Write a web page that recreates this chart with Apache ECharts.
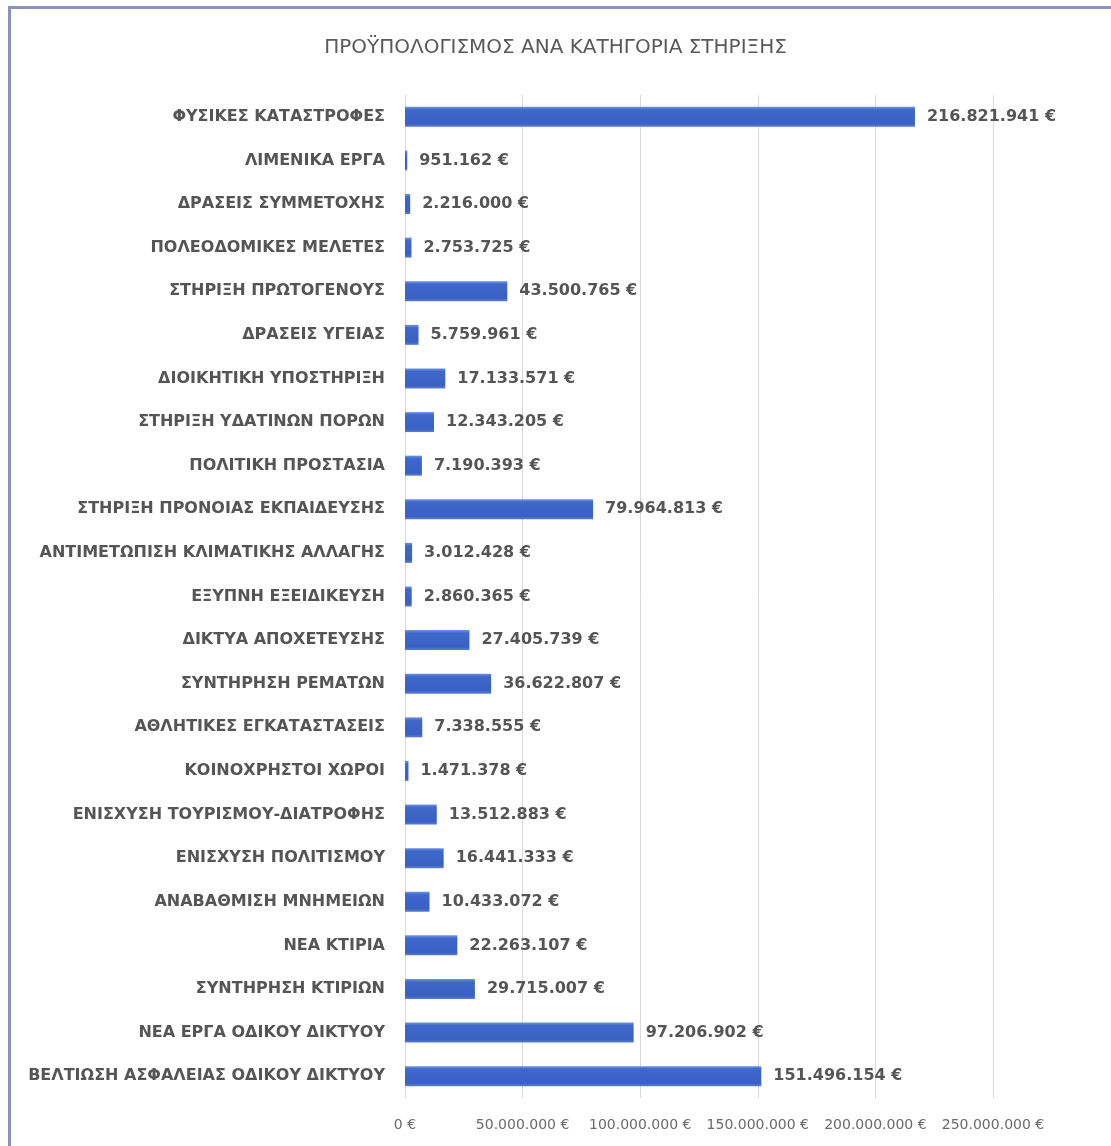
<!DOCTYPE html>
<html>
<head>
<meta charset="utf-8">
<script src="https://cdn.jsdelivr.net/npm/echarts@6/dist/echarts.min.js"></script>
<style>
  html, body { margin: 0; padding: 0; background: #ffffff; }
  #frame { position: absolute; left: 8px; top: 6px; width: 1200px; height: 1200px;
           border-top: 3px solid #8a92c4; border-left: 3px solid #8a92c4; box-sizing: border-box; }
  #chart { position: absolute; left: 0; top: 0; width: 1111px; height: 1146px; }
</style>
</head>
<body>
<div id="frame"></div>
<div id="chart"></div>
<script>
const titleText = 'ΠΡΟΫΠΟΛΟΓΙΣΜΟΣ ΑΝΑ ΚΑΤΗΓΟΡΙΑ ΣΤΗΡΙΞΗΣ';
const categories = [
  'ΦΥΣΙΚΕΣ ΚΑΤΑΣΤΡΟΦΕΣ',
  'ΛΙΜΕΝΙΚΑ ΕΡΓΑ',
  'ΔΡΑΣΕΙΣ ΣΥΜΜΕΤΟΧΗΣ',
  'ΠΟΛΕΟΔΟΜΙΚΕΣ ΜΕΛΕΤΕΣ',
  'ΣΤΗΡΙΞΗ ΠΡΩΤΟΓΕΝΟΥΣ',
  'ΔΡΑΣΕΙΣ ΥΓΕΙΑΣ',
  'ΔΙΟΙΚΗΤΙΚΗ ΥΠΟΣΤΗΡΙΞΗ',
  'ΣΤΗΡΙΞΗ ΥΔΑΤΙΝΩΝ ΠΟΡΩΝ',
  'ΠΟΛΙΤΙΚΗ ΠΡΟΣΤΑΣΙΑ',
  'ΣΤΗΡΙΞΗ ΠΡΟΝΟΙΑΣ ΕΚΠΑΙΔΕΥΣΗΣ',
  'ΑΝΤΙΜΕΤΩΠΙΣΗ ΚΛΙΜΑΤΙΚΗΣ ΑΛΛΑΓΗΣ',
  'ΕΞΥΠΝΗ ΕΞΕΙΔΙΚΕΥΣΗ',
  'ΔΙΚΤΥΑ ΑΠΟΧΕΤΕΥΣΗΣ',
  'ΣΥΝΤΗΡΗΣΗ ΡΕΜΑΤΩΝ',
  'ΑΘΛΗΤΙΚΕΣ ΕΓΚΑΤΑΣΤΑΣΕΙΣ',
  'ΚΟΙΝΟΧΡΗΣΤΟΙ ΧΩΡΟΙ',
  'ΕΝΙΣΧΥΣΗ ΤΟΥΡΙΣΜΟΥ-ΔΙΑΤΡΟΦΗΣ',
  'ΕΝΙΣΧΥΣΗ ΠΟΛΙΤΙΣΜΟΥ',
  'ΑΝΑΒΑΘΜΙΣΗ ΜΝΗΜΕΙΩΝ',
  'ΝΕΑ ΚΤΙΡΙΑ',
  'ΣΥΝΤΗΡΗΣΗ ΚΤΙΡΙΩΝ',
  'ΝΕΑ ΕΡΓΑ ΟΔΙΚΟΥ ΔΙΚΤΥΟΥ',
  'ΒΕΛΤΙΩΣΗ ΑΣΦΑΛΕΙΑΣ ΟΔΙΚΟΥ ΔΙΚΤΥΟΥ'
];
const budget = [
  216821941, 951162, 2216000, 2753725, 43500765, 5759961, 17133571, 12343205,
  7190393, 79964813, 3012428, 2860365, 27405739, 36622807, 7338555, 1471378,
  13512883, 16441333, 10433072, 22263107, 29715007, 97206902, 151496154
];
const axisMin = 0, axisMax = 250000000, axisStep = 50000000;

function euro(v) {
  return String(Math.round(v)).replace(/\B(?=(\d{3})+(?!\d))/g, '.') + ' €';
}

const FONT = "'DejaVu Sans', sans-serif";
const chart = echarts.init(document.getElementById('chart'));
chart.setOption({
  backgroundColor: 'transparent',
  animation: false,
  title: {
    text: titleText, left: 'center', top: 33,
    textStyle: { fontFamily: FONT, fontSize: 20, fontWeight: 'normal', color: '#595959' }
  },
  grid: { left: 405, right: 118, top: 95, bottom: 48, containLabel: false },
  xAxis: {
    type: 'value', min: axisMin, max: axisMax, interval: axisStep,
    axisLine: { show: false }, axisTick: { show: false },
    splitLine: { lineStyle: { color: '#d9d9d9', width: 1 } },
    axisLabel: { formatter: euro, margin: 20, color: '#6a6a6a', fontFamily: FONT, fontSize: 14 }
  },
  yAxis: {
    type: 'category', data: categories, inverse: true,
    axisLine: { show: false }, axisTick: { show: false },
    axisLabel: { color: '#555555', fontFamily: FONT, fontSize: 16, fontWeight: 'bold', margin: 20 }
  },
  series: [{
    type: 'bar', data: budget, barWidth: 20,
    itemStyle: {
      color: new echarts.graphic.LinearGradient(0, 0, 0, 1, [
        { offset: 0, color: '#6f92dd' },
        { offset: 0.15, color: '#3f68cb' },
        { offset: 0.85, color: '#3a60c4' },
        { offset: 1, color: '#5a7fd4' }
      ])
    },
    label: {
      show: true, position: 'right', distance: 12,
      formatter: p => euro(p.value),
      color: '#555555', fontFamily: FONT, fontSize: 16, fontWeight: 'bold'
    }
  }]
});
</script>
</body>
</html>
